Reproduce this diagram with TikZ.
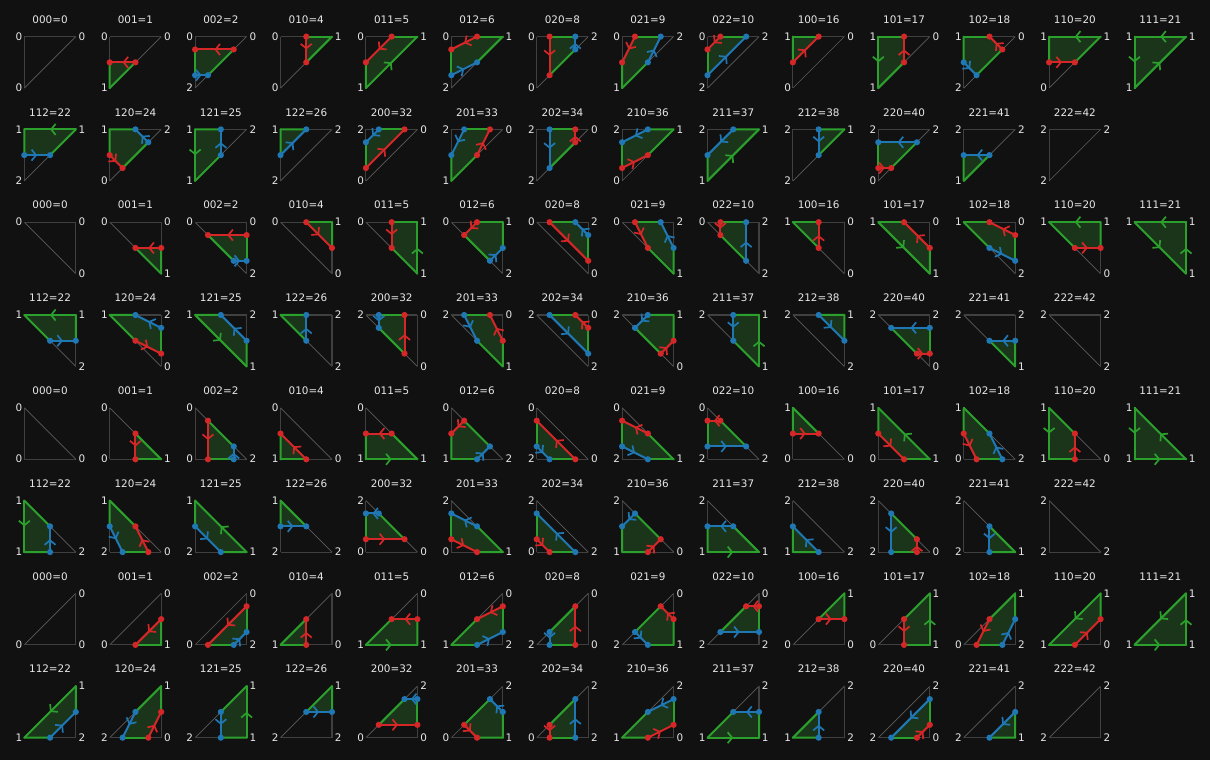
\documentclass[tikz,border=0pt]{standalone}
\usepackage{fontspec}
\setmainfont{DejaVu Sans}
\usetikzlibrary{calc,decorations.markings,arrows.meta}
\definecolor{bgc}{HTML}{111111}
\definecolor{tred}{HTML}{D62728}
\definecolor{tblue}{HTML}{1F77B4}
\definecolor{tgreen}{HTML}{2CA02C}
\definecolor{tfill}{HTML}{1B351B}
\definecolor{legc}{HTML}{404040}
\definecolor{hypc}{HTML}{5C5C5C}
\definecolor{txtc}{HTML}{E8E8E8}
\tikzset{
  legline/.style={draw=legc, line width=1.1pt},
  hypline/.style={draw=hypc, line width=0.7pt},
  grn/.style={draw=tgreen, line width=2pt, line cap=round},
  redline/.style={draw=tred, line width=2pt},
  blueline/.style={draw=tblue, line width=2pt},
  chevmark/.style={postaction={decorate,decoration={markings,mark=at position 0.5 with {\arrow[color=#1]{Straight Barb[length=4.5pt,width=11pt,line width=1.7pt]}}}}},
  ttl/.style={text=txtc, font=\fontsize{10.4}{12}\selectfont, anchor=base, inner sep=0pt},
  lblL/.style={text=txtc, font=\fontsize{10.4}{12}\selectfont, anchor=base east, inner sep=0pt},
  lblR/.style={text=txtc, font=\fontsize{10.4}{12}\selectfont, anchor=base west, inner sep=0pt},
}
\newif\ifredon
\newif\ifblueon
\def\S{51.5}
\newcommand\edgeproc[4]{%
  \ifnum#3=1 \xdef\poly{\poly(#1)--}\fi
  \ifcase\numexpr3*#3+#4\relax
  \or
    \coordinate (RN) at ($(#1)!0.5!(#2)$);\global\redontrue
    \xdef\poly{\poly(RN)--}%
  \or
    \coordinate (RN) at ($(#1)!0.25!(#2)$);%
    \coordinate (BX) at ($(#1)!0.75!(#2)$);%
    \global\redontrue\global\blueontrue
    \xdef\poly{\poly(RN)--(BX)--}%
  \or
    \coordinate (RX) at ($(#1)!0.5!(#2)$);\global\redontrue
    \xdef\poly{\poly(RX)--}%
  \or
  \or
    \coordinate (BX) at ($(#1)!0.5!(#2)$);\global\blueontrue
    \xdef\poly{\poly(BX)--}%
  \or
    \coordinate (BN) at ($(#1)!0.25!(#2)$);%
    \coordinate (RX) at ($(#1)!0.75!(#2)$);%
    \global\redontrue\global\blueontrue
    \xdef\poly{\poly(BN)--(RX)--}%
  \or
    \coordinate (BN) at ($(#1)!0.5!(#2)$);\global\blueontrue
    \xdef\poly{\poly(BN)--}%
  \or
  \fi
}
\newcommand\edgegreen[4]{%
  \ifcase\numexpr3*#3+#4\relax
  \or \draw[grn] (RN) -- (#2);
  \or \draw[grn] (RN) -- (BX);
  \or \draw[grn] (#1) -- (RX);
  \or \draw[grn, chevmark=tgreen] (#1) -- (#2);
  \or \draw[grn] (#1) -- (BX);
  \or \draw[grn] (BN) -- (RX);
  \or \draw[grn] (BN) -- (#2);
  \or
  \fi
}
\newcommand\vlabel[3]{%
  \ifdim#1pt=0pt \node[lblL] at ($(#2)+(-1.8,-3.7)$) {#3};%
  \else \node[lblR] at ($(#2)+(2.7,-3.7)$) {#3};\fi}
\newcommand\panel[6]{%
  \pgfmathsetmacro\PX{24.3+85.4*#1}%
  \pgfmathsetmacro\PY{760-36.6-92.8*#2}%
  \ifcase#3\or
    \def\ax{0}\def\ay{0}\edef\va{#4}\def\bx{0}\def\by{\S}\edef\vb{#6}\def\cx{\S}\def\cy{0}\edef\vc{#5}\def\hyp{2}%
  \or
    \def\ax{0}\def\ay{0}\edef\va{#4}\def\bx{\S}\def\by{\S}\edef\vb{#6}\def\cx{\S}\def\cy{0}\edef\vc{#5}\def\hyp{1}%
  \or
    \def\ax{0}\def\ay{0}\edef\va{#4}\def\bx{0}\def\by{\S}\edef\vb{#5}\def\cx{\S}\def\cy{\S}\edef\vc{#6}\def\hyp{3}%
  \or
    \def\ax{\S}\def\ay{0}\edef\va{#4}\def\bx{0}\def\by{\S}\edef\vb{#5}\def\cx{\S}\def\cy{\S}\edef\vc{#6}\def\hyp{1}%
  \fi
  \coordinate (V1) at (\PX+\ax, \PY-\ay);
  \coordinate (V2) at (\PX+\bx, \PY-\by);
  \coordinate (V3) at (\PX+\cx, \PY-\cy);
  \ifnum\hyp=1 \draw[hypline] (V1)--(V2); \else \draw[legline] (V1)--(V2); \fi
  \ifnum\hyp=2 \draw[hypline] (V2)--(V3); \else \draw[legline] (V2)--(V3); \fi
  \ifnum\hyp=3 \draw[hypline] (V3)--(V1); \else \draw[legline] (V3)--(V1); \fi
  \gdef\poly{}\global\redonfalse\global\blueonfalse
  \edgeproc{V1}{V2}{\va}{\vb}%
  \edgeproc{V2}{V3}{\vb}{\vc}%
  \edgeproc{V3}{V1}{\vc}{\va}%
  \ifx\poly\empty\else
    \edef\tmpfill{\noexpand\fill[tfill] \poly cycle;}\tmpfill
  \fi
  \edgegreen{V1}{V2}{\va}{\vb}%
  \edgegreen{V2}{V3}{\vb}{\vc}%
  \edgegreen{V3}{V1}{\vc}{\va}%
  \ifredon
    \draw[redline, chevmark=tred] (RX) -- (RN);
  \fi
  \ifblueon
    \draw[blueline, chevmark=tblue] (BX) -- (BN);
  \fi
  \ifredon \fill[tred] (RX) circle (3.1pt) (RN) circle (3.1pt); \fi
  \ifblueon \fill[tblue] (BX) circle (3.1pt) (BN) circle (3.1pt); \fi
  \node[ttl] (T) at (\PX+25.75, \PY+13.3) {#4#5#6=\the\numexpr16*#4+4*#5+#6\relax};
  \vlabel{\ax}{V1}{\va}%
  \vlabel{\bx}{V2}{\vb}%
  \vlabel{\cx}{V3}{\vc}%
}
\begin{document}
\begin{tikzpicture}[x=1pt,y=1pt]
\fill[bgc] (0,0) rectangle (1210,760);
\useasboundingbox (0,0) rectangle (1210,760);
\foreach \g in {1,2,3,4}{%
  \foreach \n in {0,...,26}{%
    \pgfmathtruncatemacro\da{floor(\n/9)}%
    \pgfmathtruncatemacro\db{mod(floor(\n/3),3)}%
    \pgfmathtruncatemacro\dc{mod(\n,3)}%
    \pgfmathtruncatemacro\col{\n<14 ? \n : \n-14}%
    \pgfmathtruncatemacro\row{2*(\g-1)+(\n<14 ? 0 : 1)}%
    \panel{\col}{\row}{\g}{\da}{\db}{\dc}%
  }%
}
\end{tikzpicture}
\end{document}
